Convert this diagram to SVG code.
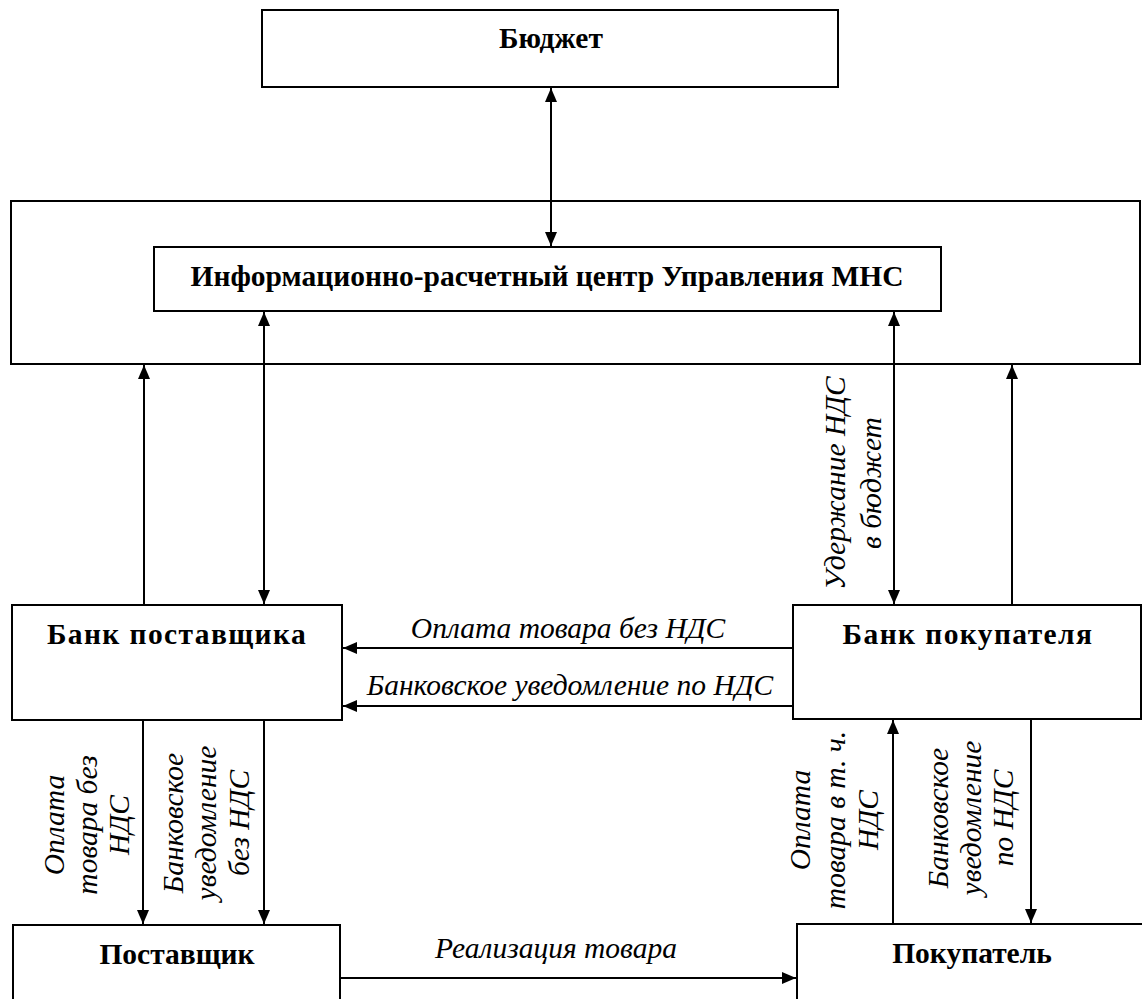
<svg xmlns="http://www.w3.org/2000/svg" width="1142" height="999" viewBox="0 0 1142 999">
<style>
.box{fill:#fff;stroke:#000;stroke-width:2}
.frame{fill:none;stroke:#000;stroke-width:2}
.n{font-family:'Liberation Serif','Times New Roman',serif;font-weight:bold;font-size:29.5px;text-anchor:middle;fill:#000}
.sp{letter-spacing:1.4px}
.l{font-family:'Liberation Serif','Times New Roman',serif;font-style:italic;font-size:29.5px;text-anchor:middle;fill:#000}
.c{stroke:#000;stroke-width:2;fill:none}
</style>
<defs>
<marker id="ah" viewBox="0 0 14 12" refX="14" refY="6" markerWidth="14" markerHeight="12" markerUnits="userSpaceOnUse" orient="auto-start-reverse">
<path d="M0,0 L14,6 L0,12 Z" fill="#000"/>
</marker>
</defs>
<rect width="1142" height="999" fill="#fff"/>
<g id="outer-frame"><rect class="frame" x="11" y="201" width="1129" height="163"/></g>
<g id="budget"><rect class="box" x="262" y="10" width="576" height="77"/><text class="n" x="551" y="48">Бюджет</text></g>
<g id="irc"><rect class="box" x="154" y="247" width="787" height="64"/><text class="n" x="547" y="286">Информационно-расчетный центр Управления МНС</text></g>
<g id="bank-supplier"><rect class="box" x="12" y="605" width="330" height="115"/><text class="n sp" x="177" y="644">Банк поставщика</text></g>
<g id="bank-buyer"><rect class="box" x="793" y="605" width="348" height="114"/><text class="n sp" x="968" y="644">Банк покупателя</text></g>
<g id="supplier"><rect class="box" x="13" y="925" width="327" height="90"/><text class="n" x="177" y="964">Поставщик</text></g>
<g id="buyer"><rect class="box" x="797" y="924" width="360" height="90"/><text class="n" x="972" y="963">Покупатель</text></g>
<g id="connectors">
<line class="c" x1="551" y1="88" x2="551" y2="246" marker-start="url(#ah)" marker-end="url(#ah)"/>
<line class="c" x1="264" y1="312" x2="264" y2="604" marker-start="url(#ah)" marker-end="url(#ah)"/>
<line class="c" x1="894" y1="312" x2="894" y2="604" marker-start="url(#ah)" marker-end="url(#ah)"/>
<line class="c" x1="144" y1="604" x2="144" y2="365" marker-end="url(#ah)"/>
<line class="c" x1="1012" y1="604" x2="1012" y2="365" marker-end="url(#ah)"/>
<line class="c" x1="793" y1="648" x2="343" y2="648" marker-end="url(#ah)"/>
<line class="c" x1="793" y1="706" x2="343" y2="706" marker-end="url(#ah)"/>
<line class="c" x1="143" y1="721" x2="143" y2="924" marker-end="url(#ah)"/>
<line class="c" x1="264" y1="721" x2="264" y2="924" marker-end="url(#ah)"/>
<line class="c" x1="893" y1="923" x2="893" y2="720" marker-end="url(#ah)"/>
<line class="c" x1="1031" y1="720" x2="1031" y2="923" marker-end="url(#ah)"/>
<line class="c" x1="340" y1="978" x2="796" y2="978" marker-end="url(#ah)"/>
<text class="l" x="568" y="638">Оплата товара без НДС</text>
<text class="l" x="570" y="695">Банковское уведомление по НДС</text>
<text class="l" x="556" y="958">Реализация товара</text>
<text class="l" transform="translate(64,825) rotate(-90)"><tspan x="0" y="0">Оплата</tspan><tspan x="0" y="33">товара без</tspan><tspan x="0" y="65">НДС</tspan></text>
<text class="l" transform="translate(183,823) rotate(-90)"><tspan x="0" y="0">Банковское</tspan><tspan x="0" y="33">уведомление</tspan><tspan x="0" y="66">без НДС</tspan></text>
<text class="l" transform="translate(810,820) rotate(-90)"><tspan x="0" y="0">Оплата</tspan><tspan x="0" y="35">товара в т. ч.</tspan><tspan x="0" y="68">НДС</tspan></text>
<text class="l" transform="translate(948,818) rotate(-90)"><tspan x="0" y="0">Банковское</tspan><tspan x="0" y="33">уведомление</tspan><tspan x="0" y="65">по НДС</tspan></text>
<text class="l" transform="translate(845,483) rotate(-90)"><tspan x="0" y="0">Удержание НДС</tspan><tspan x="0" y="36">в бюджет</tspan></text>
</g>
</svg>
